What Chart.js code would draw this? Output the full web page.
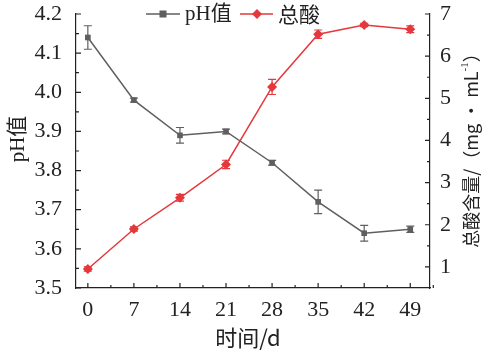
<!DOCTYPE html>
<html>
<head>
<meta charset="utf-8">
<script src="https://cdn.jsdelivr.net/npm/chart.js@4/dist/chart.umd.min.js"></script>
<style>
  html, body { margin: 0; padding: 0; background: #fff; }
  #wrap { width: 488px; height: 358px; }
</style>
</head>
<body>
<div id="wrap"><canvas id="c" width="488" height="358"></canvas></div>
<script>
// data
var days = [0, 7, 14, 21, 28, 35, 42, 49];
var phVals = [4.14, 3.98, 3.89, 3.90, 3.82, 3.72, 3.64, 3.65];
var phErr = [0.03, 0.005, 0.02, 0.006, 0.006, 0.03, 0.02, 0.008];
var acidVals = [0.95, 1.90, 2.64, 3.43, 5.27, 6.52, 6.74, 6.64];
var acidErr = [0.05, 0.05, 0.08, 0.10, 0.18, 0.10, 0.04, 0.08];
var xTicks = [0, 7, 14, 21, 28, 35, 42, 49];
var phTicks = [3.5, 3.6, 3.7, 3.8, 3.9, 4.0, 4.1, 4.2];
var acidTicks = [1, 2, 3, 4, 5, 6, 7];

var GRAY = '#5f5f5f';
var RED = '#e5383d';
var AXIS = '#222';
var FONT = '"Liberation Serif", "Noto Sans CJK SC", serif';
var CJK = '"Noto Sans CJK SC", "Liberation Serif", serif';

function pts(vals) {
	return days.map(function (d, i) { return { x: d, y: vals[i] }; });
}
function fixTicks(list) {
	return function (s) { s.ticks = list.map(function (v) { return { value: v }; }); };
}
function fitWidth(w) {
	return function (s) {
		s.width = w;
		s.paddingTop = 0;
		s.paddingBottom = 0;
	};
}

// error bars, inward tick marks, axis titles and legend
var extras = {
	id: 'extras',
	afterDatasetsDraw: function (chart) {
		var ctx = chart.ctx;
		var sets = [[0, phErr, 'y', GRAY], [1, acidErr, 'y1', RED]];
		ctx.save();
		sets.forEach(function (s) {
			var meta = chart.getDatasetMeta(s[0]);
			var sc = chart.scales[s[2]];
			var vals = chart.data.datasets[s[0]].data;
			ctx.strokeStyle = s[3];
			ctx.lineWidth = 1.2;
			meta.data.forEach(function (p, i) {
				var y0 = sc.getPixelForValue(vals[i].y - s[1][i]);
				var y1 = sc.getPixelForValue(vals[i].y + s[1][i]);
				ctx.beginPath();
				ctx.moveTo(p.x, y0); ctx.lineTo(p.x, y1);
				ctx.moveTo(p.x - 4, y0); ctx.lineTo(p.x + 4, y0);
				ctx.moveTo(p.x - 4, y1); ctx.lineTo(p.x + 4, y1);
				ctx.stroke();
			});
		});
		ctx.restore();
	},
	afterDraw: function (chart) {
		var ctx = chart.ctx;
		var a = chart.chartArea;
		var sx = chart.scales.x, sy = chart.scales.y, sy1 = chart.scales.y1;
		ctx.save();
		ctx.strokeStyle = AXIS;
		ctx.lineWidth = 1.2;
		ctx.beginPath();
		// x ticks, major and minor
		xTicks.forEach(function (v) {
			var x = sx.getPixelForValue(v);
			ctx.moveTo(x, a.bottom); ctx.lineTo(x, a.bottom - 5);
			var m = sx.getPixelForValue(v + 3.5);
			ctx.moveTo(m, a.bottom); ctx.lineTo(m, a.bottom - 3);
		});
		// left ticks
		phTicks.forEach(function (v) {
			var y = sy.getPixelForValue(v);
			ctx.moveTo(a.left, y); ctx.lineTo(a.left + 5, y);
			if (v < 4.2) {
				var m = sy.getPixelForValue(v + 0.05);
				ctx.moveTo(a.left, m); ctx.lineTo(a.left + 3, m);
			}
		});
		// right ticks
		acidTicks.forEach(function (v) {
			var y = sy1.getPixelForValue(v);
			ctx.moveTo(a.right, y); ctx.lineTo(a.right - 5, y);
			var m = sy1.getPixelForValue(v - 0.5);
			if (v > 1) { ctx.moveTo(a.right, m); ctx.lineTo(a.right - 3, m); }
		});
		ctx.stroke();

		// axis titles
		ctx.fillStyle = '#222';
		ctx.textAlign = 'center';
		ctx.textBaseline = 'middle';
		ctx.font = '22px ' + CJK;
		ctx.fillText('时间/d', 248, 338);

		ctx.save();
		ctx.translate(18, 139);
		ctx.rotate(-Math.PI / 2);
		ctx.font = '21px ' + FONT;
		ctx.fillText('pH值', 0, 0);
		ctx.restore();

		// right title, read bottom to top, with superscript -1
		ctx.save();
		ctx.translate(471, 146);
		ctx.rotate(-Math.PI / 2);
		var main = '总酸含量/（mg • mL';
		ctx.font = '18px ' + CJK;
		var w1 = ctx.measureText(main).width;
		ctx.font = '11px ' + FONT;
		var w2 = ctx.measureText('-1').width;
		ctx.font = '18px ' + CJK;
		var w3 = ctx.measureText('）').width;
		var start = -(w1 + w2 + w3) / 2;
		ctx.textAlign = 'left';
		ctx.fillText(main, start, 0);
		ctx.font = '11px ' + FONT;
		ctx.fillText('-1', start + w1, -6);
		ctx.font = '18px ' + CJK;
		ctx.fillText('）', start + w1 + w2, 0);
		ctx.restore();

		// legend
		var ly = 14;
		ctx.lineWidth = 1.5;
		ctx.strokeStyle = GRAY;
		ctx.beginPath(); ctx.moveTo(146, ly); ctx.lineTo(180, ly); ctx.stroke();
		ctx.fillStyle = GRAY;
		ctx.fillRect(163 - 3.5, ly - 3.5, 7, 7);
		ctx.strokeStyle = RED;
		ctx.beginPath(); ctx.moveTo(240, ly); ctx.lineTo(273, ly); ctx.stroke();
		ctx.fillStyle = RED;
		ctx.beginPath();
		ctx.moveTo(257, ly - 5); ctx.lineTo(262, ly); ctx.lineTo(257, ly + 5); ctx.lineTo(252, ly);
		ctx.closePath(); ctx.fill();
		ctx.fillStyle = '#222';
		ctx.textAlign = 'left';
		ctx.font = '21px ' + FONT;
		ctx.fillText('pH值', 185, ly);
		ctx.font = '21px ' + CJK;
		ctx.fillText('总酸', 278, ly);
		ctx.restore();
	}
};

var tickFont = { family: FONT, size: 22 };

new Chart(document.getElementById('c'), {
	type: 'line',
	data: {
		datasets: [
			{
				label: 'pH值',
				data: pts(phVals),
				yAxisID: 'y',
				borderColor: GRAY,
				backgroundColor: GRAY,
				borderWidth: 1.5,
				pointStyle: 'rect',
				pointRadius: 4,
				pointBorderWidth: 0,
				tension: 0
			},
			{
				label: '总酸',
				data: pts(acidVals),
				yAxisID: 'y1',
				borderColor: RED,
				backgroundColor: RED,
				borderWidth: 1.5,
				pointStyle: 'rectRot',
				pointRadius: 5,
				pointBorderWidth: 0,
				tension: 0
			}
		]
	},
	options: {
		responsive: false,
		animation: false,
		layout: { padding: { top: 14, right: 0, bottom: 0, left: 0 } },
		plugins: { legend: { display: false }, tooltip: { enabled: false } },
		scales: {
			x: {
				type: 'linear',
				min: -1.8,
				max: 52,
				afterBuildTicks: fixTicks(xTicks),
				afterFit: function (s) { s.height = 70; s.paddingLeft = 0; s.paddingRight = 0; },
				grid: { drawOnChartArea: false, drawTicks: false },
				border: { display: true, color: AXIS, width: 1.2 },
				ticks: { font: tickFont, color: '#222', padding: 9, maxRotation: 0 }
			},
			y: {
				position: 'left',
				min: 3.5,
				max: 4.2,
				afterBuildTicks: fixTicks(phTicks),
				afterFit: fitWidth(76),
				grid: { drawOnChartArea: false, drawTicks: false },
				border: { display: true, color: AXIS, width: 1.2 },
				ticks: {
					font: tickFont, color: '#222', padding: 14,
					callback: function (v) { return v.toFixed(1); }
				}
			},
			y1: {
				position: 'right',
				min: 0.5,
				max: 7,
				afterBuildTicks: fixTicks(acidTicks),
				afterFit: fitWidth(58),
				grid: { drawOnChartArea: false, drawTicks: false },
				border: { display: true, color: AXIS, width: 1.2 },
				ticks: { font: tickFont, color: '#222', padding: 10 }
			}
		}
	},
	plugins: [extras]
});
</script>
</body>
</html>
